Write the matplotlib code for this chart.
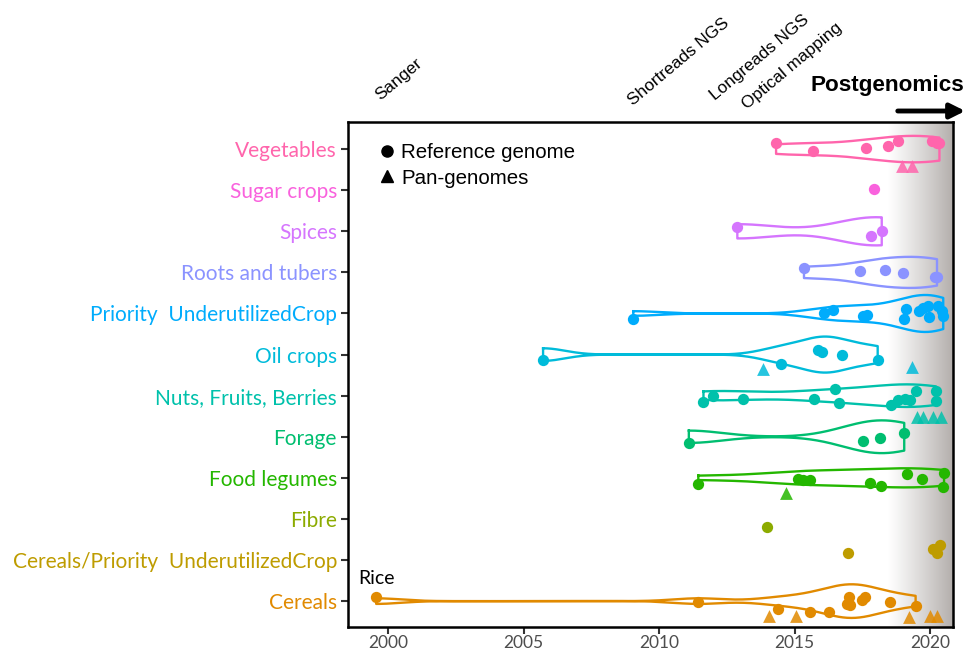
import numpy as np
import matplotlib
matplotlib.use("Agg")
import matplotlib.pyplot as plt
from matplotlib.lines import Line2D
from matplotlib.transforms import blended_transform_factory

# ---------------- data ----------------
categories = ["Cereals", "Cereals/Priority  UnderutilizedCrop", "Fibre", "Food legumes",
              "Forage", "Nuts, Fruits, Berries", "Oil crops", "Priority  UnderutilizedCrop",
              "Roots and tubers", "Spices", "Sugar crops", "Vegetables"]
colors = ["#E18A00", "#BE9C00", "#8CAB00", "#24B700", "#00BE70", "#00C1AB",
          "#00BBDA", "#00ACFC", "#8B93FF", "#D575FE", "#F962DD", "#FF65AC"]
has_violin = [True, False, False, True, True, True, True, True, True, True, False, True]

# reference genomes: year (as plotted) and vertical jitter (category units)
ref_years = {
    "Cereals": [1999.56, 2011.45, 2014.38, 2015.57, 2016.29, 2016.92, 2017.01, 2017.05,
                2017.48, 2017.60, 2018.52, 2019.47],
    "Cereals/Priority  UnderutilizedCrop": [2016.96, 2020.10, 2020.37, 2020.27],
    "Fibre": [2013.97],
    "Food legumes": [2011.45, 2015.14, 2015.33, 2015.57, 2017.79, 2018.18, 2019.14,
                     2019.69, 2020.52, 2020.47],
    "Forage": [2011.10, 2017.54, 2018.15, 2019.05],
    "Nuts, Fruits, Berries": [2011.64, 2011.98, 2013.11, 2015.73, 2016.49, 2016.64, 2018.56,
                              2018.83, 2019.08, 2019.26, 2019.48, 2020.22, 2020.22],
    "Oil crops": [2005.72, 2014.50, 2015.88, 2016.00, 2016.77, 2018.07],
    "Priority  UnderutilizedCrop": [2009.05, 2016.10, 2016.43, 2017.54, 2017.66, 2019.11,
                                    2019.05, 2019.60, 2019.73, 2019.94, 2019.98, 2020.31,
                                    2020.43, 2020.49],
    "Roots and tubers": [2015.35, 2017.42, 2018.35, 2019.02, 2020.18, 2020.26],
    "Spices": [2012.89, 2017.81, 2018.22],
    "Sugar crops": [2017.93],
    "Vegetables": [2014.32, 2015.67, 2017.64, 2018.44, 2018.83, 2020.09, 2020.25, 2020.35],
}
ref_jitter = {
    "Cereals": [0.10, -0.03, -0.19, -0.26, -0.26, -0.07, 0.09, -0.10, 0.02, 0.09, -0.02, -0.11],
    "Cereals/Priority  UnderutilizedCrop": [0.16, 0.26, 0.37, 0.16],
    "Fibre": [-0.19],
    "Food legumes": [-0.15, -0.03, -0.05, -0.05, -0.13, -0.19, 0.09, -0.02, 0.13, -0.23],
    "Forage": [-0.14, -0.11, -0.03, 0.10],
    "Nuts, Fruits, Berries": [-0.15, 0.0, -0.08, -0.08, 0.16, -0.19, -0.23, -0.10, -0.08,
                              -0.10, 0.12, 0.12, -0.14],
    "Oil crops": [-0.12, -0.24, 0.10, 0.06, -0.02, -0.12],
    "Priority  UnderutilizedCrop": [-0.13, 0.01, 0.09, -0.05, -0.03, 0.10, -0.13, 0.07, 0.13,
                                    0.17, -0.09, 0.19, 0.06, -0.07],
    "Roots and tubers": [0.10, 0.03, 0.07, -0.02, -0.11, -0.11],
    "Spices": [0.10, -0.12, 0.01],
    "Sugar crops": [0.04],
    "Vegetables": [0.15, -0.05, 0.02, 0.08, 0.20, 0.20, 0.15, 0.15],
}
# pan-genomes
pan_years = {
    "Cereals": [2014.06, 2015.06, 2019.23, 2020.00, 2020.25],
    "Food legumes": [2014.68],
    "Nuts, Fruits, Berries": [2019.51, 2019.75, 2020.12, 2020.39],
    "Oil crops": [2013.85, 2019.32],
    "Vegetables": [2018.95, 2019.32],
}
pan_jitter = {
    "Cereals": [-0.36, -0.36, -0.38, -0.36, -0.36],
    "Food legumes": [-0.37],
    "Nuts, Fruits, Berries": [-0.53, -0.53, -0.53, -0.53],
    "Oil crops": [-0.36, -0.31],
    "Vegetables": [-0.41, -0.41],
}
tech_labels = ["Sanger", "Shortreads NGS", "Longreads NGS", "Optical mapping"]
tech_years = [1999.7, 2009.05, 2012.05, 2013.25]
tech_ypix = [101, 106, 101, 110]
xticks = [2000, 2005, 2010, 2015, 2020]
postgenomic_start = 2018.45

# ---------------- helpers ----------------
def nrd0(x):
    x = np.asarray(x, float)
    sd = np.std(x, ddof=1)
    q75, q25 = np.percentile(x, [75, 25])
    lo = min(sd, (q75 - q25) / 1.34)
    if lo <= 0:
        lo = sd if sd > 0 else 1.0
    return 0.9 * lo * len(x) ** (-0.2)

def kde(x, grid):
    x = np.asarray(x, float)
    bw = nrd0(x)
    z = (grid[:, None] - x[None, :]) / bw
    return np.exp(-0.5 * z ** 2).sum(axis=1) / (len(x) * bw * np.sqrt(2 * np.pi))

# ---------------- figure ----------------
fig = plt.figure(figsize=(9.68, 6.51), dpi=100)
W, H = 968, 651
ax = fig.add_axes([348 / W, 1 - 627 / H, 605 / W, 505 / H])
ax.set_xlim(1998.52, 2020.85)
ax.set_ylim(0.37, 12.66)

# postgenomics shading
grad = np.linspace(0, 1, 256) ** 1.1
col0 = np.array([1.0, 1.0, 1.0])
col1 = np.array([0.70, 0.68, 0.67])
img = col0[None, :] + (col1 - col0)[None, :] * grad[:, None]
ax.imshow(img[None, :, :], extent=[postgenomic_start, 2020.85, 0.37, 12.66],
          aspect="auto", zorder=0, interpolation="bilinear")

# violins
dens = {}
for cat, hv in zip(categories, has_violin):
    if hv:
        yrs = np.array(ref_years[cat])
        g = np.linspace(yrs.min(), yrs.max(), 512)
        dens[cat] = (g, kde(yrs, g))
dmax = max(d.max() for g, d in dens.values())
for i, (cat, col) in enumerate(zip(categories, colors)):
    pos = i + 1
    if cat in dens:
        g, d = dens[cat]
        hw = 0.45 * d / dmax
        xs = np.concatenate([g, g[::-1], [g[0]]])
        ys = np.concatenate([pos + hw, pos - hw[::-1], [pos + hw[0]]])
        ax.plot(xs, ys, color=col, lw=1.7, zorder=2, solid_joinstyle="round")
    yr = np.array(ref_years[cat])
    jt = np.array(ref_jitter[cat])
    ax.scatter(yr, pos + jt, s=66, color=col, marker="o", linewidths=0, zorder=3)
    if cat in pan_years:
        ax.scatter(pan_years[cat], pos + np.array(pan_jitter[cat]), s=85, color=col,
                   marker="^", linewidths=0, zorder=3, alpha=0.85)

# Rice label
ax.text(ref_years["Cereals"][0] - 0.65, 1.56, "Rice", fontsize=14, family="Lato",
        ha="left", va="center", color="black")

# axes styling
ax.set_yticks(np.arange(1, len(categories) + 1))
ax.set_yticklabels(categories, fontsize=15.0, family="Lato")
for lbl, col in zip(ax.get_yticklabels(), colors):
    lbl.set_color(col)
ax.set_xticks(xticks)
ax.set_xticklabels([str(t) for t in xticks], fontsize=12.5, family="Lato", color="#4D4D4D")
ax.tick_params(axis="both", length=5, width=1.5, color="#333333")
ax.tick_params(axis="x", pad=1)
ax.tick_params(axis="y", pad=3)
for sp in ax.spines.values():
    sp.set_linewidth(1.8)
    sp.set_color("black")

# legend
handles = [Line2D([], [], marker="o", ls="", color="black", markersize=8),
           Line2D([], [], marker="^", ls="", color="black", markersize=8)]
ax.legend(handles, ["Reference genome", "Pan-genomes"], loc="upper left",
          bbox_to_anchor=(0.025, 0.99), frameon=False, handlelength=0.7,
          handletextpad=0.35, labelspacing=0.3, borderpad=0.3,
          prop={"family": "Liberation Sans", "size": 14.8})

# technology annotations
tr = blended_transform_factory(ax.transData, fig.transFigure)
for lab, yr, yp in zip(tech_labels, tech_years, tech_ypix):
    ax.text(yr, 1 - yp / H, lab, transform=tr, rotation=40, rotation_mode="anchor",
            ha="left", va="baseline", fontsize=12.4, family="Liberation Sans", clip_on=False)

fig.text(887 / W, 1 - 86 / H, "Postgenomics", ha="center", va="center",
         fontsize=16.2, fontweight="bold", family="Liberation Sans")
fig.patches.append(matplotlib.patches.FancyArrowPatch(
    (895 / W, 1 - 111 / H), (968 / W, 1 - 111 / H), transform=fig.transFigure,
    arrowstyle="-|>", mutation_scale=22, lw=3.5, color="black"))

fig.savefig("out.png", dpi=100)
